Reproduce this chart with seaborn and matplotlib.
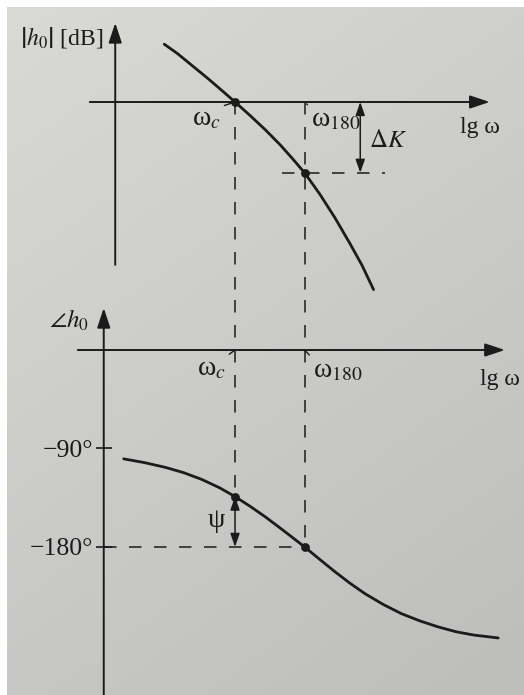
import numpy as np
import matplotlib
matplotlib.use("Agg")
import matplotlib.pyplot as plt
import seaborn as sns

# Open-loop magnitude response: lg ω against |h0| in dB
lgw_mag = [0.88, 1.10, 1.35, 1.60, 1.85, 2.05, 2.30, 2.55, 2.80, 3.00,
           3.20, 3.45, 3.70, 3.95, 4.15, 4.34]
mag_db = [9.8, 8.2, 6.1, 4.0, 1.8, 0.0, -2.3, -4.7, -7.3, -9.6,
          -12.0, -15.6, -19.6, -24.0, -27.7, -31.8]

# Open-loop phase response: lg ω against ∠h0 in degrees
lgw_phase = [0.21, 0.55, 0.90, 1.20, 1.50, 1.80, 2.05, 2.30, 2.55, 2.80,
             3.00, 3.20, 3.45, 3.70, 3.95, 4.20, 4.50, 4.80, 5.10, 5.40,
             5.70, 6.00, 6.40]
phase_deg = [-99.5, -102.9, -107.3, -112.1, -118.3, -126.1, -134.0, -142.9,
             -152.5, -162.9, -171.4, -180.0, -191.4, -202.6, -213.2, -222.8,
             -232.6, -241.0, -247.5, -253.0, -257.5, -260.6, -263.2]

# Crossover frequencies and the two stability margins
w_c = 2.05             # gain crossover ω_c
w_180 = 3.20           # phase crossover ω_180
gain_margin_db = 12.0  # ΔK
phase_at_wc = -134.0   # ψ = 180° − 134° = 46°

phase_ticks = [-90, -180]
phase_tick_labels = ["−90°", "−180°"]

sns.set_theme(style="white")
plt.rcParams["font.family"] = ["Liberation Serif", "DejaVu Serif"]
plt.rcParams["mathtext.fontset"] = "stix"
plt.rcParams["lines.scale_dashes"] = False

ink = "#1b1b1b"
fs = 17
fs_w = 20
dash = (0, (9.0, 9.0))

W, H = 524, 695
fig = plt.figure(figsize=(W / 100, H / 100), dpi=100)
fig.patch.set_facecolor("white")

# printed page background
bg = fig.add_axes([7 / W, 0, (W - 7) / W, (H - 7) / H])
yy, xx = np.mgrid[0:1:240j, 0:1:180j]
t = 0.35 * xx + 0.65 * yy
c0 = np.array([217, 217, 213]) / 255
c1 = np.array([189, 189, 188]) / 255
bg.imshow(c0 + (c1 - c0) * t[..., None], aspect="auto", extent=[0, 1, 0, 1])
bg.set_axis_off()

px_per_unit = 60.5
x_lim = (-111 / px_per_unit, (W - 111) / px_per_unit)

ax1 = fig.add_axes([0, 395 / H, 1, 300 / H])
ax2 = fig.add_axes([0, 0, 1, 395 / H])
ax1.set_xlim(*x_lim)
ax1.set_ylim(-198 / 5.9, 102 / 5.9)
ax2.set_xlim(*x_lim)
ax2.set_ylim(-345 / 1.094, 50 / 1.094)

for ax in (ax1, ax2):
    ax.set_facecolor("none")
    for s in ax.spines.values():
        s.set_visible(False)
    ax.set_xticks([])

ax1.set_yticks([])

axis_arrow = dict(arrowstyle="-|>,head_length=0.6,head_width=0.2",
                  mutation_scale=20, lw=1.4, color=ink, shrinkA=0, shrinkB=0)
margin_arrow = dict(arrowstyle="<|-|>,head_length=0.8,head_width=0.28",
                    mutation_scale=10, lw=1.1, color=ink, shrinkA=0, shrinkB=0)
leader = dict(arrowstyle="-", lw=1.0, color=ink, shrinkA=0, shrinkB=2.0)

# ---------------- magnitude plot ----------------
ax1.annotate("", xy=(6.26, 0), xytext=(-0.35, 0), arrowprops=axis_arrow)
ax1.annotate("", xy=(0.07, 13.4), xytext=(0.07, -27.6), arrowprops=axis_arrow)

ybot1 = ax1.get_ylim()[0]
ax1.plot([w_c, w_c], [0, ybot1], color=ink, lw=1.1, ls=dash)
ax1.plot([w_180, w_180], [0, ybot1], color=ink, lw=1.1, ls=dash)
ax1.plot([w_180 - 0.37, w_180 + 1.33], [-gain_margin_db] * 2,
         color=ink, lw=1.1, ls=dash)

sns.lineplot(x=lgw_mag, y=mag_db, ax=ax1, color=ink, lw=2.0, zorder=3)
sns.scatterplot(x=[w_c, w_180], y=[0, -gain_margin_db], ax=ax1, s=34,
                color=ink, edgecolor=ink, zorder=4)

x_dk = 4.12
ax1.annotate("", xy=(x_dk, 0), xytext=(x_dk, -gain_margin_db),
             arrowprops=margin_arrow)
ax1.text(x_dk + 0.46, -6.6, r"$\Delta K$", fontsize=fs + 1, color=ink,
         ha="center", va="center")

ax1.text(-0.81, 10.85, r"$\left|h_0\right|$ [dB]", fontsize=fs, color=ink,
         ha="center", va="center")
ax1.text(6.10, -4.4, "lg ω", fontsize=fs, color=ink, ha="center", va="center")
ax1.annotate("ω$_c$", xy=(w_c, 0), xytext=(1.58, -2.9), fontsize=fs_w,
             color=ink, ha="center", va="center",
             arrowprops=dict(leader, relpos=(1.0, 1.0)))
ax1.annotate("ω$_{180}$", xy=(w_180, 0), xytext=(3.71, -3.1), fontsize=fs_w,
             color=ink, ha="center", va="center",
             arrowprops=dict(leader, relpos=(0.0, 1.0)))

# ---------------- phase plot ----------------
x_axis2 = -0.12
ytop2, ybot2 = ax2.get_ylim()[1], ax2.get_ylim()[0]
ax2.annotate("", xy=(6.51, 0), xytext=(-0.55, 0), arrowprops=axis_arrow)
ax2.annotate("", xy=(x_axis2, 38.4), xytext=(x_axis2, ybot2),
             arrowprops=axis_arrow)

ax2.spines["left"].set_position(("data", x_axis2))
ax2.set_yticks(phase_ticks)
ax2.set_yticklabels(phase_tick_labels, fontsize=18.5, color=ink)
ax2.tick_params(axis="y", direction="inout", length=11, width=1.2,
                color=ink, pad=2, left=True)

ax2.plot([w_c, w_c], [ytop2, phase_at_wc], color=ink, lw=1.1, ls=dash)
ax2.plot([w_180, w_180], [ytop2, -180], color=ink, lw=1.1, ls=dash)
ax2.plot([x_axis2, w_180], [-180, -180], color=ink, lw=1.1, ls=dash)

sns.lineplot(x=lgw_phase, y=phase_deg, ax=ax2, color=ink, lw=2.0, zorder=3)
sns.scatterplot(x=[w_c, w_180], y=[phase_at_wc, -180], ax=ax2, s=34,
                color=ink, edgecolor=ink, zorder=4)

ax2.annotate("", xy=(w_c, phase_at_wc), xytext=(w_c, -180),
             arrowprops=margin_arrow)
ax2.text(w_c - 0.31, -156, "ψ", fontsize=fs_w, color=ink,
         ha="center", va="center")

ax2.text(-0.69, 27.4, r"$\angle h_0$", fontsize=fs + 1, color=ink,
         ha="center", va="center")
ax2.text(6.43, -27.4, "lg ω", fontsize=fs, color=ink, ha="center", va="center")
ax2.annotate("ω$_c$", xy=(w_c, 0), xytext=(1.66, -17.5), fontsize=fs_w,
             color=ink, ha="center", va="center",
             arrowprops=dict(leader, relpos=(1.0, 1.0), shrinkB=0))
ax2.annotate("ω$_{180}$", xy=(w_180, 0), xytext=(3.74, -19.0), fontsize=fs_w,
             color=ink, ha="center", va="center",
             arrowprops=dict(leader, relpos=(0.0, 1.0), shrinkB=0))

fig.savefig("out.png", dpi=100)
